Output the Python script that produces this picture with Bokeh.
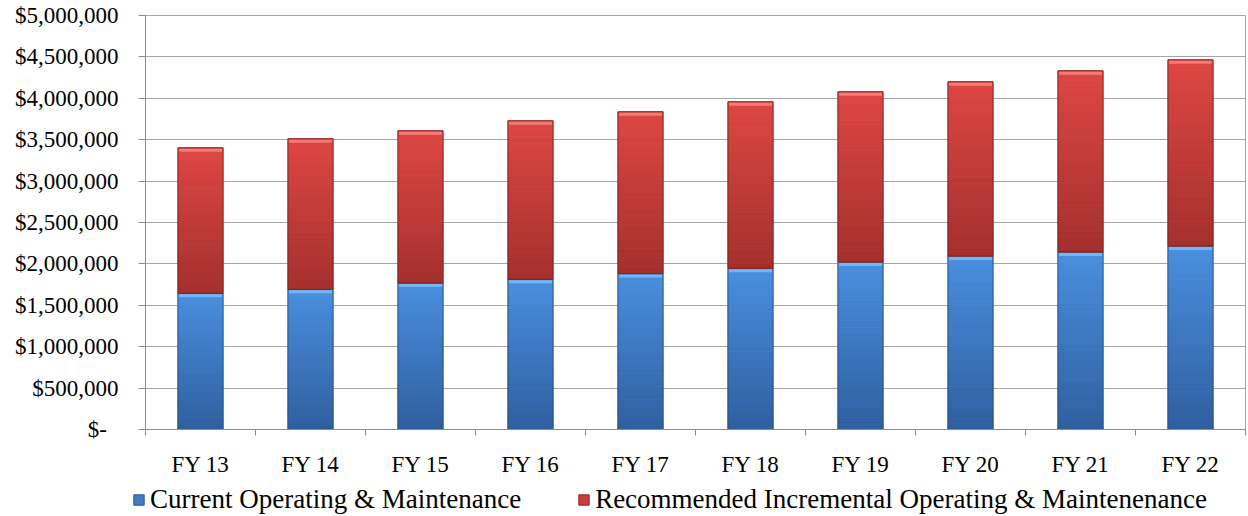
from bokeh.plotting import figure
from bokeh.models import FixedTicker, Legend, LegendItem, Range1d
from bokeh.embed import file_html
from bokeh.resources import INLINE

# Fiscal years and the two stacked cost components (USD)
categories = ["FY 13", "FY 14", "FY 15", "FY 16", "FY 17",
              "FY 18", "FY 19", "FY 20", "FY 21", "FY 22"]
current_om = [1645000, 1693000, 1769000, 1814000, 1883000,
              1947000, 2023000, 2095000, 2144000, 2216000]
recommended_om = [1758000, 1819000, 1839000, 1915000, 1955000,
                  2011000, 2056000, 2105000, 2189000, 2249000]
series_names = ["Current Operating & Maintenance",
                "Recommended Incremental Operating & Maintenenance"]

y_ticks = [0, 500000, 1000000, 1500000, 2000000, 2500000,
           3000000, 3500000, 4000000, 4500000, 5000000]
y_tick_labels = ["$-\u00a0\u00a0", "$500,000", "$1,000,000", "$1,500,000", "$2,000,000",
                 "$2,500,000", "$3,000,000", "$3,500,000", "$4,000,000",
                 "$4,500,000", "$5,000,000"]

FONT = "Liberation Serif"
BAR_W = 0.41
Y_MAX = 5000000

p = figure(width=1248, height=480, output_backend="svg", toolbar_location=None,
           x_range=Range1d(0, len(categories)), y_range=Range1d(0, Y_MAX),
           min_border_left=145, min_border_right=3, min_border_top=15,
           min_border_bottom=51)
p.background_fill_color = "white"
p.border_fill_color = "white"
p.outline_line_color = "#a6a6a6"
p.outline_line_width = 1

# approximate data units per screen pixel (frame is ~414 px tall)
px = Y_MAX / 414.0

xs = [i + 0.5 for i in range(len(categories))]


def hex_to_rgb(h):
    h = h.lstrip("#")
    return tuple(int(h[i:i + 2], 16) for i in (0, 2, 4))


def mix(c1, c2, t):
    a, b = hex_to_rgb(c1), hex_to_rgb(c2)
    return "#%02x%02x%02x" % tuple(round(a[i] + (b[i] - a[i]) * t) for i in range(3))


def shaded_segment(bottoms, tops, top_color, bottom_color, hi_color, edge_color, n=72):
    """Stacked bar segment with a vertical colour ramp and a bevelled top."""
    for k in range(n):
        f0, f1 = k / n, (k + 1) / n
        col = mix(bottom_color, top_color, (f0 + f1) / 2)
        p.vbar(x=xs, width=BAR_W,
               bottom=[b + (t - b) * f0 for b, t in zip(bottoms, tops)],
               top=[b + (t - b) * f1 for b, t in zip(bottoms, tops)],
               fill_color=col, line_color=col, line_width=1)
    # bevel highlight along the top edge
    p.vbar(x=xs, width=BAR_W - 0.02, bottom=[t - 4 * px for t in tops],
           top=[t - 1 * px for t in tops], fill_color=hi_color, line_color=None)
    # darker rim
    p.vbar(x=xs, width=BAR_W, bottom=bottoms, top=tops, fill_color=None,
           line_color=edge_color, line_width=1, line_alpha=0.7)


base = [0] * len(categories)
totals = [c + r for c, r in zip(current_om, recommended_om)]

CUR_COLORS = ("#4a8fde", "#2f5f9f", "#74b6f4", "#23487a")
REC_COLORS = ("#dd4743", "#a4302d", "#f47b78", "#6e201e")
shaded_segment(base, current_om, *CUR_COLORS)
shaded_segment(current_om, totals, *REC_COLORS)

# y axis
p.yaxis.ticker = FixedTicker(ticks=y_ticks)
p.yaxis.major_label_overrides = {v: s for v, s in zip(y_ticks, y_tick_labels)}
p.yaxis.major_label_text_font = FONT
p.yaxis.major_label_text_font_size = "23px"
p.yaxis.major_label_text_color = "black"
p.yaxis.major_label_standoff = 20
p.yaxis.axis_line_color = "#8c8c8c"
p.yaxis.major_tick_line_color = "#8c8c8c"
p.yaxis.major_tick_out = 7
p.yaxis.major_tick_in = 0
p.yaxis.minor_tick_line_color = None

p.ygrid.ticker = FixedTicker(ticks=y_ticks)
p.ygrid.grid_line_color = "#a6a6a6"
p.ygrid.grid_line_width = 1
p.xgrid.grid_line_color = None

# x axis: labels at bar centres, tick marks between categories
p.xaxis.ticker = FixedTicker(ticks=xs, minor_ticks=list(range(len(categories) + 1)))
p.xaxis.major_label_overrides = {x: c for x, c in zip(xs, categories)}
p.xaxis.major_label_text_font = FONT
p.xaxis.major_label_text_font_size = "23px"
p.xaxis.major_label_text_color = "black"
p.xaxis.major_label_standoff = 16
p.xaxis.major_tick_line_color = None
p.xaxis.major_tick_out = 0
p.xaxis.major_tick_in = 0
p.xaxis.minor_tick_line_color = "#8c8c8c"
p.xaxis.minor_tick_out = 6
p.xaxis.minor_tick_in = 0
p.xaxis.axis_line_color = "#8c8c8c"

# legend strip underneath the chart (its swatch bars sit outside the visible range)
lg = figure(width=1248, height=36, output_backend="svg", toolbar_location=None,
            x_range=Range1d(0, 1), y_range=Range1d(0, 1),
            x_axis_type=None, y_axis_type=None,
            min_border_left=0, min_border_right=0, min_border_top=0,
            min_border_bottom=0)
lg.outline_line_color = None
lg.background_fill_color = "white"
lg.border_fill_color = "white"
lg.xgrid.grid_line_color = None
lg.ygrid.grid_line_color = None
swatch_cur = lg.vbar(x=[5], top=[1], width=0.1, fill_color="#3f7dc8",
                     line_color="#2a5690")
swatch_rec = lg.vbar(x=[5], top=[1], width=0.1, fill_color="#c83c39",
                     line_color="#8a2a28")

legend = Legend(items=[LegendItem(label=series_names[0], renderers=[swatch_cur]),
                       LegendItem(label=series_names[1], renderers=[swatch_rec])],
                orientation="horizontal", location=(132, 1),
                label_text_font=FONT, label_text_font_size="27px",
                label_text_color="black", glyph_width=13, glyph_height=13,
                label_standoff=5, spacing=56, padding=0, margin=0,
                border_line_color=None, background_fill_alpha=0)
lg.add_layout(legend, "center")

open("out.html", "w").write(file_html([p, lg], INLINE))
